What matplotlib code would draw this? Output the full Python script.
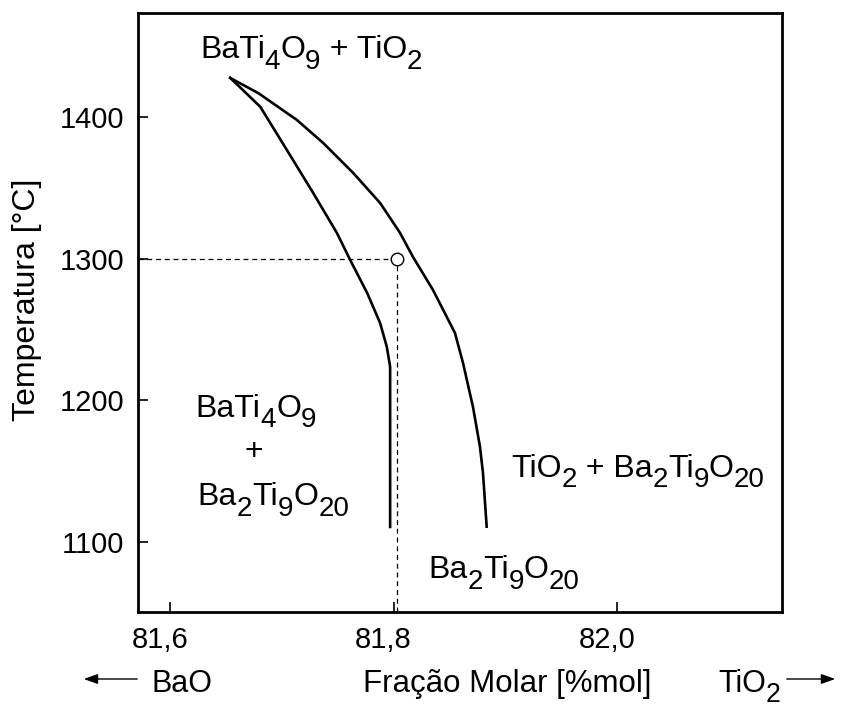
import matplotlib
matplotlib.use("Agg")
import matplotlib.pyplot as plt
from matplotlib.patches import FancyArrowPatch
from matplotlib.transforms import offset_copy, ScaledTranslation

plt.rcParams['font.family'] = ['Liberation Sans', 'DejaVu Sans']

# phase boundaries (x in %mol TiO2, y in degC)
left_x = [81.6537, 81.6805, 81.7044, 81.7280, 81.7492, 81.7611, 81.7763,
          81.7879, 81.7939, 81.7969, 81.7969]
left_y = [1427.9, 1407.6, 1377.0, 1346.6, 1318.4, 1299.3, 1276.0,
          1254.8, 1238.0, 1223.9, 1110.6]
right_x = [81.6537, 81.6790, 81.7134, 81.7369, 81.7638, 81.7879, 81.8058,
           81.8174, 81.8353, 81.8550, 81.8622, 81.8711, 81.8774, 81.8801, 81.8834]
right_y = [1427.9, 1417.1, 1398.2, 1382.0, 1360.8, 1339.6, 1318.4,
           1301.4, 1278.1, 1247.7, 1226.5, 1195.6, 1167.3, 1148.8, 1110.8]

# marked composition
point_x = 81.803
point_y = 1300

xticks = [81.6, 81.8, 82.0]
xtick_labels = ['81,6', '81,8', '82,0']
yticks = [1100, 1200, 1300, 1400]

TICK_FS = 21
LABEL_FS = 23
SUB = 0.87    # subscript size relative to main text
DROP = 0.33   # subscript drop, fraction of font size

fig = plt.figure(figsize=(8.42, 7.08), dpi=100)
ax = fig.add_axes([0.1639, 0.1356, 0.7648, 0.8454])


def formula(x, y, parts, size, transform, ha='center'):
    """Draw a chemical formula; parts is a list of (text, is_subscript)."""
    r = fig.canvas.get_renderer()
    widths = []
    for s, sub in parts:
        t = fig.text(0, 0, s, fontsize=size * SUB if sub else size)
        widths.append(t.get_window_extent(r).width)
        t.remove()
    cur = -sum(widths) / 2 if ha == 'center' else 0
    for (s, sub), w in zip(parts, widths):
        dy = -size * DROP * fig.dpi / 72 if sub else 0
        tr = offset_copy(transform, fig=fig, x=cur, y=dy, units='dots')
        fig.text(x, y, s, fontsize=size * SUB if sub else size, transform=tr,
                 ha='left', va='baseline')
        cur += w


ax.plot(left_x, left_y, color='black', lw=1.9)
ax.plot(right_x, right_y, color='black', lw=1.9)

xmin, xmax = 81.571, 82.148
ymin, ymax = 1050.5, 1473.5

# guide lines to the marked point
ax.plot([xmin, point_x], [point_y, point_y], color='black', lw=0.9, ls=(0, (4, 3)))
ax.plot([point_x, point_x], [ymin, point_y], color='black', lw=0.9, ls=(0, (4, 3)))
ax.plot([point_x], [point_y], marker='o', ms=9, mfc='white', mec='black', mew=1.0)

ax.set_xlim(xmin, xmax)
ax.set_ylim(ymin, ymax)
ax.set_xticks(xticks)
ax.set_xticklabels(xtick_labels)
ax.set_yticks(yticks)
ax.tick_params(direction='in', length=7, width=1.2, labelsize=TICK_FS, pad=10)
for lbl in ax.get_xticklabels():
    lbl.set_transform(lbl.get_transform() + ScaledTranslation(-0.10, 0, fig.dpi_scale_trans))
for s in ax.spines.values():
    s.set_linewidth(2.0)

ax.set_ylabel('Temperatura [°C]', fontsize=23)
ax.yaxis.set_label_coords(-0.149, 0.521)

# phase field labels
formula(81.7261, 1441.8, [('BaTi', 0), ('4', 1), ('O', 0), ('9', 1), (' + TiO', 0), ('2', 1)],
        LABEL_FS, ax.transData)
formula(81.6768, 1188.6, [('BaTi', 0), ('4', 1), ('O', 0), ('9', 1)], LABEL_FS, ax.transData)
ax.text(81.6752, 1163.8, '+', fontsize=LABEL_FS, ha='center', va='center')
formula(81.6924, 1126.1, [('Ba', 0), ('2', 1), ('Ti', 0), ('9', 1), ('O', 0), ('20', 1)],
        LABEL_FS, ax.transData)
formula(82.0188, 1146.2, [('TiO', 0), ('2', 1), (' + Ba', 0), ('2', 1), ('Ti', 0), ('9', 1),
                          ('O', 0), ('20', 1)], LABEL_FS, ax.transData)
formula(81.8989, 1074.3, [('Ba', 0), ('2', 1), ('Ti', 0), ('9', 1), ('O', 0), ('20', 1)],
        LABEL_FS, ax.transData)

# composition direction labels below the axis
base = 1 - 692.3 / 708
fig.text(507.5 / 842, base, 'Fração Molar [%mol]', fontsize=22.5, ha='center', va='baseline')
fig.text(151.7 / 842, base, 'BaO', fontsize=22, ha='left', va='baseline')
formula(718 / 842, base, [('TiO', 0), ('2', 1)], 22, fig.transFigure, ha='left')
arrow_y = 1 - 679 / 708
fig.patches.append(FancyArrowPatch(
    (140 / 842, arrow_y), (81 / 842, arrow_y), transform=fig.transFigure,
    arrowstyle='-|>,head_length=0.7,head_width=0.25', mutation_scale=12, color='black', lw=1.0))
fig.patches.append(FancyArrowPatch(
    (784 / 842, arrow_y), (838 / 842, arrow_y), transform=fig.transFigure,
    arrowstyle='-|>,head_length=0.7,head_width=0.25', mutation_scale=12, color='black', lw=1.0))

fig.savefig('out.png', dpi=100)
